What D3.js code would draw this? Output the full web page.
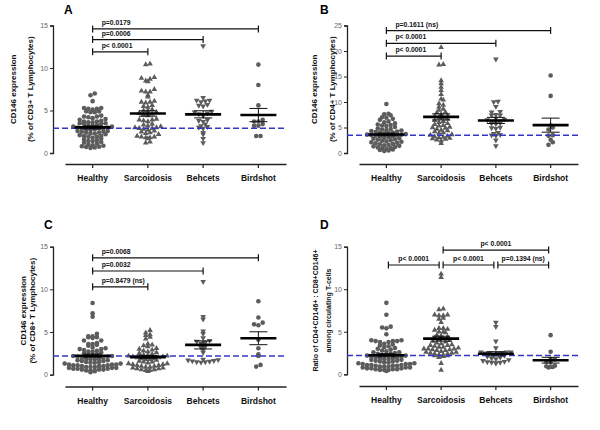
<!DOCTYPE html>
<html><head><meta charset="utf-8">
<script src="https://cdn.jsdelivr.net/npm/d3@7"></script>
<style>body{margin:0;background:#fff}</style>
</head><body><svg id="c" width="600" height="430"></svg>
<script>
// ---------- DATA ----------
const categories = ["Healthy", "Sarcoidosis", "Behcets", "Birdshot"];
const shapes = ["circle", "triangleUp", "triangleDown", "circle"];
const panelLetters = ["A", "B", "C", "D"];

// Panel A: CD146 % of CD3+
const aHealthy = [7.0,6.8,6.1,5.3,5.3,5.2,5.2,5.1,4.9,4.9,4.8,4.8,4.4,4.3,4.3,4.2,4.1,4.0,3.9,3.8,3.7,3.7,3.6,3.6,3.5,3.5,3.4,3.4,3.3,3.2,3.2,3.1,3.1,3.0,3.0,2.9,2.9,2.9,2.8,2.8,2.7,2.6,2.6,2.5,2.5,2.4,2.4,2.3,2.3,2.2,2.1,2.0,2.0,1.9,1.9,1.8,1.7,1.6,1.5,1.4,1.4,1.3,1.2,1.1,1.0,0.9,0.85,0.8,0.75,0.7,0.65,0.6];
const aSarcoidosis = [10.5,10.4,8.9,8.8,8.7,8.5,8.4,7.5,7.3,7.2,7.2,6.8,6.6,6.1,6.0,6.0,5.9,5.6,5.5,5.4,5.1,5.0,5.0,4.8,4.7,4.6,4.5,4.5,4.4,4.0,3.9,3.9,3.8,3.7,3.4,3.3,3.2,3.1,3.0,3.0,2.9,2.9,2.8,2.7,2.6,2.5,2.4,2.3,2.2,2.0,1.9,1.9,1.8,1.8,1.7,1.3,1.2];
const aBehcets = [12.6,6.5,6.2,6.2,6.1,6.0,5.7,5.6,5.5,4.9,4.8,4.7,4.6,4.5,4.4,3.9,3.8,3.7,3.4,3.2,3.1,3.0,2.9,2.4,2.2,1.7,1.2];
const aBirdshot = [10.4,8.0,5.6,3.9,3.7,3.7,3.4,3.2,3.2,2.0,2.0];

// Panel B: CD146 % of CD4+
const bHealthy = [9.6,7.7,7.6,7.4,7.0,6.9,6.7,6.5,6.2,6.0,5.8,5.6,5.5,5.4,5.3,5.1,4.8,4.7,4.6,4.5,4.4,4.3,4.2,4.1,4.0,4.0,3.9,3.8,3.7,3.6,3.6,3.5,3.5,3.4,3.3,3.2,3.1,3.0,2.9,2.8,2.7,2.6,2.5,2.4,2.3,2.2,2.1,2.0,1.9,1.8,1.7,1.6,1.5,1.4,1.3,1.2,1.1,1.0,0.9,0.8,0.7,0.6,0.5,0.4];
const bSarcoidosis = [20.7,17.4,17.3,14.2,13.6,12.9,12.3,11.5,10.6,10.4,9.7,9.4,9.0,8.6,8.4,8.0,7.9,7.6,7.3,7.2,7.0,6.9,6.7,6.4,6.2,6.0,5.8,5.6,5.4,5.3,5.1,5.0,4.9,4.7,4.5,4.4,4.2,4.0,3.9,3.6,3.5,3.3,3.2,3.1,3.0,2.9,2.8,2.7,2.6,2.4,1.9];
const bBehcets = [18.4,10.1,10.0,9.1,8.1,8.0,7.5,7.4,7.4,6.6,6.8,6.5,6.3,6.2,6.1,5.0,5.9,5.8,5.7,4.9,4.8,4.0,3.8,3.6,3.5,3.4,2.5,1.4];
const bBirdshot = [15.2,11.2,5.4,5.0,4.6,3.5,3.4,2.6,2.1,1.6];

// Panel C: CD146 % of CD8+
const cHealthy = [8.4,7.2,6.8,4.8,4.5,4.5,4.4,4.4,4.3,4.0,4.0,3.7,3.6,3.6,3.5,3.4,3.2,3.1,3.0,3.0,2.9,2.8,2.7,2.7,2.6,2.5,2.4,2.3,2.3,2.2,2.2,2.1,2.1,2.0,2.0,1.9,1.9,1.8,1.8,1.7,1.7,1.6,1.6,1.5,1.5,1.4,1.4,1.3,1.3,1.2,1.2,1.2,1.1,1.1,1.1,1.0,1.0,1.0,0.9,0.9,0.9,0.8,0.8,0.8,0.7,0.7,0.7,0.6,0.6,0.6,0.5,0.5,0.5,0.4,0.3];
const cSarcoidosis = [5.2,4.9,4.7,4.6,4.4,4.2,3.6,3.5,3.4,3.3,3.1,3.0,2.9,2.8,2.7,2.6,2.5,2.4,2.3,2.3,2.2,2.2,2.1,2.1,2.0,2.0,1.9,1.9,1.8,1.8,1.7,1.6,1.5,1.5,1.4,1.3,1.3,1.2,1.2,1.1,1.1,1.0,1.0,0.9,0.9,0.8,0.8,0.7,0.7,0.6,0.6,0.5,0.5,0.4];
const cBehcets = [10.9,6.8,6.5,5.1,4.8,4.3,4.0,3.9,3.8,3.7,3.3,3.2,2.9,2.6,1.8,1.75,1.7,1.65,1.6,1.55,1.5,1.5,1.45];
const cBirdshot = [8.6,6.7,6.1,5.9,5.8,4.1,3.1,2.4,2.2,1.15,0.95];

// Panel D: ratio CD4+CD146+ : CD8+CD146+
const dHealthy = [8.4,7.0,5.6,5.5,5.4,4.7,4.0,4.0,3.9,3.9,3.9,3.8,3.8,3.6,3.5,3.4,3.3,3.2,3.1,3.0,2.9,2.8,2.7,2.6,2.6,2.5,2.4,2.4,2.3,2.3,2.2,2.2,2.1,2.1,2.0,2.0,1.9,1.9,1.8,1.8,1.7,1.7,1.6,1.6,1.5,1.5,1.4,1.4,1.3,1.3,1.2,1.2,1.2,1.1,1.1,1.1,1.0,1.0,1.0,0.9,0.9,0.9,0.8,0.8,0.8,0.7,0.7,0.7,0.6,0.6,0.6,0.5,0.5,0.5,0.4];
const dSarcoidosis = [11.8,11.4,7.7,7.6,7.0,7.0,6.9,6.9,6.6,6.5,6.1,5.4,5.4,5.3,5.2,5.0,5.0,4.9,4.6,4.5,4.4,4.3,4.2,4.1,4.0,3.9,3.8,3.7,3.6,3.5,3.4,3.4,3.3,3.2,3.2,3.1,3.0,3.0,3.0,2.9,2.9,2.8,2.8,2.7,2.6,2.6,2.5,2.5,2.4,2.4,2.3,2.3,2.2,2.2,2.1,2.0,1.3,0.5];
const dBehcets = [6.1,5.6,3.9,3.1,2.6,2.5,2.6,2.6,2.5,2.5,2.4,2.3,2.2,2.1,2.0,1.9,1.8,1.7,1.6,1.5,1.45,1.4,1.4,1.35,1.3];
const dBirdshot = [4.6,2.65,1.8,1.75,1.5,1.45,1.0,0.95,0.9,0.85,0.8];

const yMaxes = [15, 25, 15, 15];
const yTickValues = [[0,5,10,15],[0,5,10,15,20,25],[0,5,10,15],[0,5,10,15]];
const refLines = [2.9, 3.5, 2.2, 2.2];
const yLabels = [
  ["CD146 expression", "(% of CD3+ T Lymphocytes)"],
  ["CD146 expression", "(% of CD4+ T Lymphocytes)"],
  ["CD146 expression", "(% of CD8+ T Lymphocytes)"],
  ["Ratio of CD4+CD146+ : CD8+CD146+", "among circulating T-cells"]
];
// significance comparisons: [from, to, label, level (data units)]
const sigA = [["Healthy","Birdshot","p=0.0179",14.6],["Healthy","Behcets","p=0.0006",13.35],["Healthy","Sarcoidosis","p< 0.0001",11.9]];
const sigB = [["Healthy","Birdshot","p=0.1611 (ns)",24.0],["Healthy","Behcets","p< 0.0001",21.5],["Healthy","Sarcoidosis","p< 0.0001",19.0]];
const sigC = [["Healthy","Birdshot","p=0.0068",13.7],["Healthy","Behcets","p=0.0032",12.15],["Healthy","Sarcoidosis","p=0.8479 (ns)",10.3]];
const sigD = [["Sarcoidosis","Birdshot","p< 0.0001",14.6],["Healthy","Sarcoidosis","p< 0.0001",12.85],["Sarcoidosis","Behcets","p< 0.0001",12.85],["Behcets","Birdshot","p=0.1394 (ns)",12.85]];

const panelData = [
  [aHealthy, aSarcoidosis, aBehcets, aBirdshot],
  [bHealthy, bSarcoidosis, bBehcets, bBirdshot],
  [cHealthy, cSarcoidosis, cBehcets, cBirdshot],
  [dHealthy, dSarcoidosis, dBehcets, dBirdshot]
];
const panelSig = [sigA, sigB, sigC, sigD];

// ---------- LAYOUT ----------
const FONT = "'Liberation Sans', Arial, sans-serif";
const layout = [
  {yAxisX:53,  xr:[65,286],  yr:[153,25.5],   axisY:164,   letter:[64,14],  lab:[16,33],   labFs:8,  sigMode:"left"},
  {yAxisX:347, xr:[359,578], yr:[153,25.5],   axisY:164,   letter:[320,14], lab:[317,335], labFs:8,  sigMode:"left"},
  {yAxisX:53,  xr:[65,286],  yr:[374.7,246.7],axisY:386.5, letter:[44,229], lab:[26,35],   labFs:8,  sigMode:"left"},
  {yAxisX:347, xr:[359,578], yr:[374.3,246.7],axisY:386,   letter:[320,229],lab:[318,331], labFs:7,  sigMode:"center"}
];

const svg = d3.select("#c");
const markColor = "#5c5c5c";

function swarm(vals, y, cx, d, binH) {
  const pts = vals.map(v => ({v, py: y(v)}));
  const y0 = y(0);
  const bins = d3.group(pts, p => Math.floor((y0 - p.py) / binH));
  const out = [];
  for (const [, arr] of bins) {
    arr.sort((a, b) => a.v - b.v);
    const n = arr.length;
    const slots = d3.range(n).map(i => (i - (n - 1) / 2) * d);
    slots.sort((a, b) => Math.abs(a) - Math.abs(b) || a - b);
    arr.forEach((p, i) => { p.px = cx + slots[i]; out.push(p); });
  }
  return out;
}

panelData.forEach((groups, pi) => {
  const L = layout[pi];
  const g = svg.append("g");
  const x = d3.scaleBand().domain(categories).range(L.xr);
  const cx = c => x(c) + x.bandwidth() / 2;
  const y = d3.scaleLinear().domain([0, yMaxes[pi]]).range(L.yr);

  // y axis
  const yAx = g.append("g").attr("transform", `translate(${L.yAxisX},0)`)
    .call(d3.axisLeft(y).tickValues(yTickValues[pi]).tickSize(3).tickPadding(2).tickFormat(d3.format("d")));
  yAx.select(".domain").attr("stroke", "#222").attr("stroke-width", 1.3);
  yAx.selectAll(".tick line").attr("stroke", "#222").attr("stroke-width", 1);
  yAx.selectAll(".tick text").attr("font-family", FONT).attr("font-size", 7).attr("fill", "#666");

  // x axis
  const xAx = g.append("g").attr("transform", `translate(0,${L.axisY})`)
    .call(d3.axisBottom(x).tickSize(4).tickSizeOuter(0).tickPadding(7));
  xAx.select(".domain").attr("stroke", "#222").attr("stroke-width", 1.3);
  xAx.selectAll(".tick line").attr("stroke", "#222").attr("stroke-width", 1.2);
  xAx.selectAll(".tick text").attr("font-family", FONT).attr("font-size", 8.5)
    .attr("font-weight", "bold").attr("fill", "#111");

  // panel letter
  g.append("text").attr("x", L.letter[0]).attr("y", L.letter[1]).text(panelLetters[pi])
    .attr("font-family", FONT).attr("font-size", 12).attr("font-weight", "bold");

  // y label
  const cy = (L.yr[0] + L.yr[1]) / 2;
  yLabels[pi].forEach((t, k) => {
    g.append("text").attr("transform", `translate(${L.lab[k]},${cy}) rotate(-90)`)
      .attr("text-anchor", "middle").text(t)
      .attr("font-family", FONT).attr("font-size", L.labFs).attr("font-weight", "bold").attr("fill", "#111");
  });

  // points
  groups.forEach((vals, ci) => {
    const c = categories[ci];
    const pts = swarm(vals, y, cx(c), 4.3, 3.8);
    const shape = shapes[ci];
    if (shape === "circle") {
      g.append("g").selectAll("circle").data(pts).join("circle")
        .attr("cx", p => p.px).attr("cy", p => p.py).attr("r", 2.3).attr("fill", markColor);
    } else {
      const sym = d3.symbol(d3.symbolTriangle).size(14)();
      g.append("g").selectAll("path").data(pts).join("path")
        .attr("d", sym)
        .attr("transform", p => `translate(${p.px},${p.py})` + (shape === "triangleDown" ? " rotate(180)" : ""))
        .attr("fill", markColor);
    }
  });

  // reference dashed line
  g.append("line").attr("x1", L.yAxisX).attr("x2", L.xr[1])
    .attr("y1", y(refLines[pi])).attr("y2", y(refLines[pi]))
    .attr("stroke", "#3434c8").attr("stroke-width", 1.5).attr("stroke-dasharray", "6,3");

  // mean and SEM
  groups.forEach((vals, ci) => {
    const c = categories[ci];
    const m = d3.mean(vals);
    const sem = d3.deviation(vals) / Math.sqrt(vals.length);
    const X = cx(c);
    const eg = g.append("g").attr("stroke", "#111");
    eg.append("line").attr("x1", X).attr("x2", X).attr("y1", y(m - sem)).attr("y2", y(m + sem)).attr("stroke-width", 1);
    [m - sem, m + sem].forEach(v => eg.append("line").attr("x1", X - 9).attr("x2", X + 9)
      .attr("y1", y(v)).attr("y2", y(v)).attr("stroke-width", 1));
    eg.append("line").attr("x1", X - 18).attr("x2", X + 18).attr("y1", y(m)).attr("y2", y(m))
      .attr("stroke", "#000").attr("stroke-width", 2.6);
  });

  // significance brackets
  panelSig[pi].forEach(([a, b, lab, lvl]) => {
    const inset = L.sigMode === "center" ? 2 : 0;
    const x1 = cx(a) + inset, x2 = cx(b) - inset, yy = y(lvl);
    const sg = g.append("g").attr("stroke", "#111").attr("stroke-width", 1.2);
    sg.append("line").attr("x1", x1).attr("x2", x2).attr("y1", yy).attr("y2", yy);
    [x1, x2].forEach(xx => sg.append("line").attr("x1", xx).attr("x2", xx).attr("y1", yy - 3.5).attr("y2", yy + 3.5));
    const t = g.append("text").attr("y", yy - 4).text(lab)
      .attr("font-family", FONT).attr("font-size", 6.8).attr("font-weight", "bold").attr("fill", "#111");
    if (L.sigMode === "center") t.attr("x", (x1 + x2) / 2).attr("text-anchor", "middle");
    else t.attr("x", x1 + 9);
  });
});
</script></body></html>
